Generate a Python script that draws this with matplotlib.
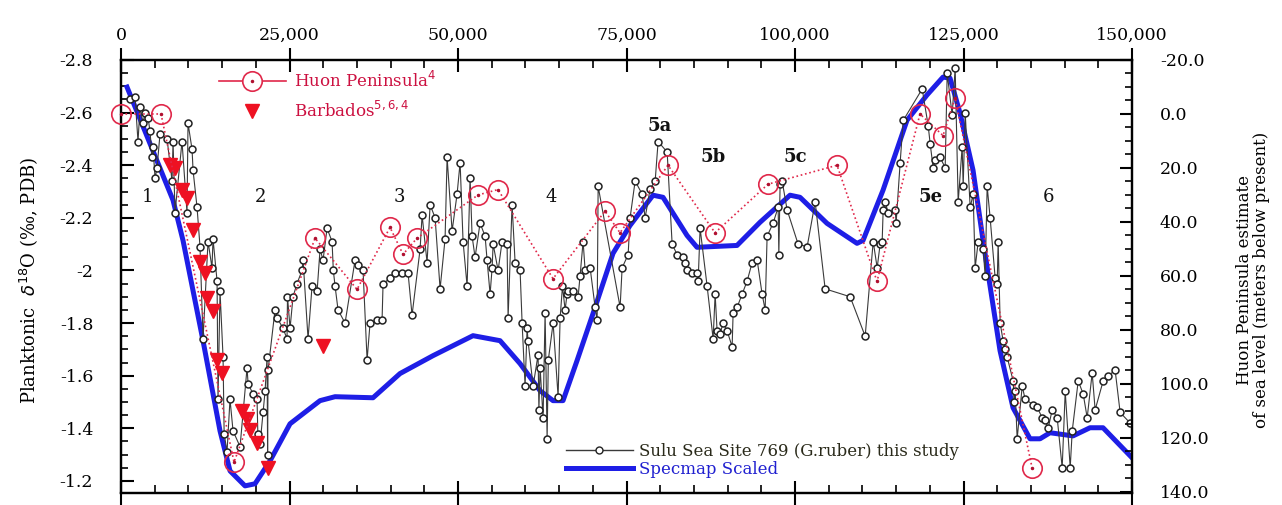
import numpy as np
import matplotlib
matplotlib.use("Agg")
import matplotlib.pyplot as plt
from matplotlib.lines import Line2D
from matplotlib.ticker import MultipleLocator, FuncFormatter

plt.rcParams['font.family'] = ['DejaVu Serif']

# Sulu Sea Site 769 (G. ruber) planktonic d18O, age in years
sulu_age = [1340, 2080, 2520, 2820, 3260, 3560, 4010, 4300, 4600, 4750, 5050, 5340, 5790, 6830,
            7570, 7720, 8010, 9050, 9790, 9940, 10540, 10690, 11280, 11720, 12170, 12910, 13500,
            13650, 14250, 14390, 14690, 15140, 15300, 15730, 16170, 16620, 17660, 18700, 18850,
            19590, 20180, 20300, 20630, 21070, 21370, 21670, 21750, 21810, 22850, 23150, 24040,
            24630, 24700, 25080, 25520, 26110, 26860, 27010, 27750, 28340, 29090, 29530, 29980,
            30570, 31310, 31500, 31760, 32200, 33240, 34730, 35170, 35910, 36510, 36950, 37990,
            38730, 38880, 39920, 40660, 41700, 42590, 43180, 44370, 44670, 45410, 45860, 46600,
            47340, 48080, 48380, 49120, 49860, 50310, 50750, 51350, 51790, 52090, 52530, 53270,
            54020, 54310, 54760, 55060, 55210, 55950, 56540, 57280, 57430, 58020, 58470, 59210,
            59510, 59950, 60250, 60400, 61140, 61880, 62000, 62180, 62620, 62920, 63220, 63400,
            64110, 64850, 65150, 65500, 65890, 66180, 66330, 67070, 67820, 68110, 68560, 68860,
            69600, 70340, 70640, 70790, 74050, 74350, 75240, 75530, 76280, 77320, 77760, 78500,
            79250, 79690, 81030, 81770, 82510, 83400, 83700, 83990, 84740, 85480, 85630, 85920,
            86960, 87850, 88150, 88440, 88890, 89330, 89930, 90670, 90820, 91410, 92150, 92900,
            93640, 94380, 95120, 95570, 95860, 96750, 97500, 97600, 97790, 98090, 98830, 100460,
            101800, 102990, 104470, 108180, 110410, 111600, 112190, 112630, 112930, 113080,
            113380, 113820, 114860, 115000, 115600, 116050, 118870, 119760, 120060, 120500,
            120800, 121540, 122280, 122580, 123320, 123760, 124210, 124800, 124950, 125250,
            125990, 126430, 126730, 127180, 127920, 128210, 128510, 128950, 129700, 130000,
            130140, 130440, 130890, 131180, 131480, 132370, 132500, 132670, 132960, 133710,
            134150, 135340, 135930, 136670, 137120, 137560, 138160, 138900, 139640, 140090,
            140830, 141130, 142020, 142760, 143350, 144090, 144530, 145720, 146460, 147500,
            148240, 149720]
sulu_d18o = [-2.65, -2.66, -2.49, -2.62, -2.56, -2.60, -2.58, -2.53, -2.43, -2.47, -2.35, -2.39, -2.52, -2.50,
             -2.34, -2.49, -2.22, -2.49, -2.22, -2.56, -2.46, -2.38, -2.24, -2.09, -1.74, -2.11, -2.01,
             -2.12, -1.96, -1.51, -1.92, -1.67, -1.38, -1.31, -1.51, -1.39, -1.33, -1.63, -1.57,
             -1.53, -1.51, -1.38, -1.34, -1.46, -1.54, -1.67, -1.30, -1.62, -1.85, -1.82, -1.78,
             -1.74, -1.90, -1.78, -1.90, -1.95, -2.00, -2.04, -1.74, -1.94, -1.92, -2.08, -2.04,
             -2.16, -2.11, -2.00, -1.94, -1.85, -1.80, -2.04, -2.02, -2.00, -1.66, -1.80, -1.81,
             -1.81, -1.95, -1.97, -1.99, -1.99, -1.99, -1.83, -2.08, -2.21, -2.03, -2.25, -2.20,
             -1.93, -2.12, -2.43, -2.15, -2.29, -2.41, -2.11, -1.94, -2.35, -2.13, -2.05, -2.18,
             -2.13, -2.04, -1.91, -2.01, -2.10, -2.00, -2.11, -2.10, -1.82, -2.25, -2.03, -2.00,
             -1.80, -1.56, -1.78, -1.73, -1.56, -1.68, -1.47, -1.63, -1.44, -1.84, -1.36, -1.66,
             -1.80, -1.52, -1.82, -1.94, -1.85, -1.91, -1.92, -1.92, -1.90, -1.98, -2.11, -2.00,
             -2.01, -1.86, -1.81, -2.32, -1.86, -2.01, -2.06, -2.20, -2.34, -2.29, -2.20, -2.31,
             -2.34, -2.49, -2.45, -2.10, -2.06, -2.05, -2.03, -2.00, -1.99, -1.99, -1.96, -2.16,
             -1.94, -1.74, -1.91, -1.77, -1.76, -1.80, -1.77, -1.71, -1.84, -1.86, -1.91, -1.96,
             -2.03, -2.04, -1.91, -1.85, -2.13, -2.18, -2.24, -2.06, -2.33, -2.34, -2.23, -2.10,
             -2.09, -2.26, -1.93, -1.90, -1.75, -2.11, -2.01, -2.10, -2.11, -2.23,
             -2.26, -2.22, -2.23, -2.18, -2.41, -2.57, -2.69, -2.55, -2.48, -2.39,
             -2.42, -2.43, -2.39, -2.75, -2.59, -2.77, -2.26, -2.47, -2.32, -2.60,
             -2.24, -2.29, -2.01, -2.11, -2.08, -1.98, -2.32, -2.20, -1.97, -1.95,
             -2.11, -1.80, -1.73, -1.70, -1.67, -1.58, -1.50, -1.54, -1.36, -1.56,
             -1.51, -1.49, -1.48, -1.44, -1.43, -1.40, -1.47, -1.44, -1.25, -1.54,
             -1.25, -1.39, -1.58, -1.53, -1.44, -1.61, -1.47, -1.58, -1.60, -1.62,
             -1.46, -1.42]

# SPECMAP curve scaled to d18O
spec_age = [890, 7715, 9199, 12166, 14689, 16172, 18398, 19882, 22107, 25075, 29526, 31752, 37389,
            41395, 46291, 52226, 56232, 59199, 62167, 64096, 65580, 67657, 70031, 72998, 75520,
            78933, 80417, 83977, 85461, 91396, 94808, 99259, 100743, 104749, 109200, 110090,
            113058, 116619, 119586, 121960, 123000, 124484, 126413, 127896, 130419, 132347,
            134870, 136353, 137837, 141250, 143772, 145700, 150000]
spec_d18o = [-2.697, -2.267, -2.114, -1.733, -1.390, -1.238, -1.181, -1.189, -1.276, -1.417, -1.505,
             -1.520, -1.516, -1.608, -1.676, -1.752, -1.733, -1.646, -1.543, -1.505, -1.505, -1.657,
             -1.836, -2.065, -2.171, -2.286, -2.278, -2.133, -2.088, -2.095, -2.183, -2.286, -2.278,
             -2.179, -2.103, -2.114, -2.305, -2.571, -2.667, -2.735, -2.731, -2.598, -2.381, -2.114,
             -1.695, -1.478, -1.360, -1.360, -1.383, -1.371, -1.402, -1.402, -1.288]

# Huon Peninsula sea level (m below present)
huon_age = [0, 5935, 16766, 28784, 35015, 39911, 41840, 43917, 52968, 55935, 64096, 71811, 74036,
            81158, 88131, 95995, 106233, 112168, 118547, 121960, 123740, 135166]
huon_sl = [0, 0, 129, 46, 65, 42, 52, 46, 30, 28, 61, 36, 44, 19, 44, 26, 19, 62, 0, 8, -6, 131]

# Barbados sea level (m below present)
barb_age = [7270, 8010, 9050, 9790, 10680, 11720, 12470, 12760, 13650, 14250, 14990, 17960, 18700,
            19140, 20180, 21810, 29970]
barb_sl = [19, 20, 28, 31, 43, 55, 59, 68, 73, 91, 96, 110, 113, 117, 122, 131, 86]

stage_labels = ['1', '2', '3', '4', '5a', '5b', '5c', '5e', '6']
stage_age = [3860, 20630, 41250, 63810, 79980, 87850, 100020, 120060, 137560]
stage_y = [-2.28, -2.28, -2.28, -2.28, -2.55, -2.43, -2.43, -2.28, -2.28]

red = '#e0284a'
blue = '#1e1ee6'

fig = plt.figure(figsize=(12.82, 5.05), dpi=100)
ax = fig.add_axes([0.0944, 0.0238, 0.7886, 0.8574])

order = np.argsort(sulu_age, kind='stable')
s_age = np.array(sulu_age)[order]
s_val = np.array(sulu_d18o)[order]

ax.plot(spec_age, spec_d18o, color=blue, lw=3.6, zorder=2)
ax.plot(s_age, s_val, color='#3a3a3a', lw=0.8, marker='o', ms=5, mfc='white',
        mec='#222222', mew=1.1, zorder=3)

ax.set_xlim(0, 150000)
ax.set_ylim(-1.154, -2.8)
ax.xaxis.set_major_locator(MultipleLocator(25000))
ax.xaxis.set_minor_locator(MultipleLocator(5000))
ax.xaxis.set_major_formatter(FuncFormatter(lambda v, p: '{:,}'.format(int(v))))
ax.yaxis.set_major_locator(MultipleLocator(0.2))
ax.yaxis.set_minor_locator(MultipleLocator(0.05))
ax.yaxis.set_major_formatter(FuncFormatter(lambda v, p: '%g' % round(v, 1)))
ax.tick_params(axis='x', which='both', top=True, bottom=True, labeltop=True, labelbottom=False)
ax.tick_params(axis='x', which='major', direction='inout', length=17, width=1.5, pad=3, labelsize=12.5)
ax.tick_params(axis='x', which='minor', direction='in', length=6, width=1.2)
ax.tick_params(axis='y', which='major', direction='in', length=9, width=1.5, pad=20, labelsize=12.5)
ax.tick_params(axis='y', which='minor', direction='in', length=5, width=1.2)
for sp in ax.spines.values():
    sp.set_linewidth(1.6)

for lab, a, y in zip(stage_labels, stage_age, stage_y):
    ax.text(a, y, lab, fontsize=13, fontweight='bold' if lab.startswith('5') else 'normal',
            ha='center', va='center', color='#111111')

ax2 = ax.twinx()
ax2.set_ylim(140.4, -20)
ax2.yaxis.set_major_locator(MultipleLocator(20))
ax2.yaxis.set_minor_locator(MultipleLocator(5))
ax2.yaxis.set_major_formatter(FuncFormatter(lambda v, p: '%.1f' % v))
ax2.tick_params(axis='y', which='major', direction='in', length=9, width=1.5, pad=20, labelsize=12.5)
ax2.tick_params(axis='y', which='minor', direction='in', length=5, width=1.2)
for sp in ax2.spines.values():
    sp.set_linewidth(1.6)

ax2.plot(huon_age, huon_sl, ls=':', color=red, lw=1.2, marker='o', ms=14, mfc='none',
         mec=red, mew=1.2, clip_on=False, zorder=4)
ax2.plot(huon_age, huon_sl, ls='none', marker='.', ms=3, color='#b01030', clip_on=False, zorder=4)
ax2.plot(barb_age, barb_sl, ls='none', marker='v', ms=10, color='#ee1122', zorder=3)

# legends
h_circ = Line2D([], [], color=red, lw=1.2, marker='o', ms=14, mfc='white', mec=red, mew=1.2)
h_dot = Line2D([], [], ls='none', marker='.', ms=3, color='#b01030')
h_barb = Line2D([], [], ls='none', marker='v', ms=10, color='#ee1122')
leg1 = ax2.legend([(h_circ, h_dot), h_barb], ['Huon Peninsula$^{4}$', 'Barbados$^{5,6,4}$'],
                  loc='upper left', bbox_to_anchor=(0.097, 0.975), frameon=False, fontsize=12,
                  handlelength=4, handletextpad=0.5, labelspacing=0.6, borderpad=0, borderaxespad=0)
for t in leg1.get_texts():
    t.set_color('#cc1040')
ax2.add_artist(leg1)

h_sulu = Line2D([], [], color='#3a3a3a', lw=1.0, marker='o', ms=5, mfc='white', mec='#222222')
h_spec = Line2D([], [], color=blue, lw=3.6)
leg2 = ax2.legend([h_sulu, h_spec], ['Sulu Sea Site 769 (G.ruber) this study', 'Specmap Scaled'],
                  loc='lower left', bbox_to_anchor=(0.44, 0.035), frameon=False, fontsize=12,
                  handlelength=4, handletextpad=0.4, labelspacing=0.05, borderpad=0, borderaxespad=0)
leg2.get_texts()[0].set_color('#2a2a1a')
leg2.get_texts()[1].set_color('#2020d0')

fig.text(0.022, 0.444, 'Planktonic  $\\delta^{18}$O (‰, PDB)', rotation=90, fontsize=13,
         ha='center', va='center')
fig.text(0.977, 0.445, 'Huon Peninsula estimate\nof sea level (meters below present)',
         rotation=90, fontsize=12, ha='center', va='center', linespacing=1.0)

fig.savefig('out.png', dpi=100)
